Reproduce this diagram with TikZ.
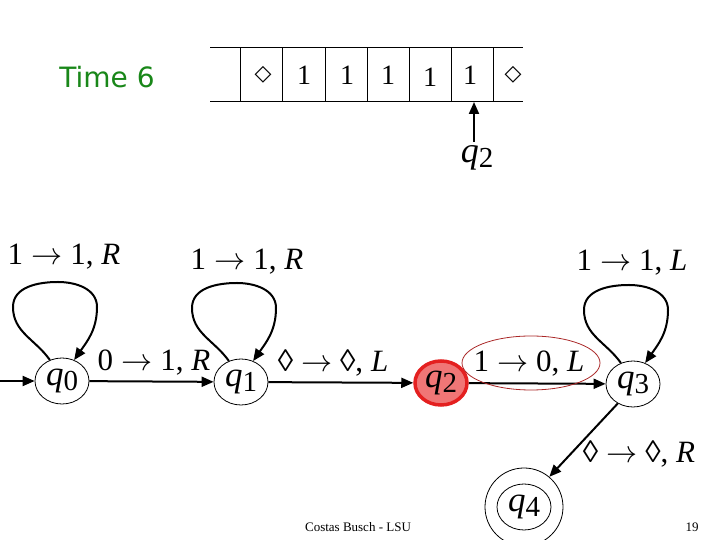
\documentclass[tikz,border=0pt]{standalone}
\usepackage{fontspec}
\usepackage{graphicx}
\setmainfont{Liberation Serif}
\newfontfamily\dejavu{DejaVu Sans}
\usetikzlibrary{arrows.meta,calc,shapes.geometric}
\definecolor{q2fill}{RGB}{240,118,118}
\definecolor{q2line}{RGB}{228,32,32}
\definecolor{hl}{RGB}{170,40,40}
\definecolor{timegreen}{RGB}{25,135,25}
\newcommand\qs[1]{\textit{q}\raisebox{-0.3ex}{\fontsize{29}{29}\selectfont #1}}
\newcommand\tr[3]{#1\hspace{8pt}\raisebox{0.5pt}{\scalebox{1.25}{$\rightarrow$}}\hspace{8pt}#2, \textit{#3}}
\begin{document}
\begin{tikzpicture}[x=1pt,y=1pt,
  state/.style={ellipse,draw,line width=0.8pt,minimum width=54pt,minimum height=46pt,inner sep=0pt,font=\fontsize{35}{35}\selectfont},
  edge/.style={line width=2pt,-{Triangle[length=12pt,width=10pt]}},
  lab/.style={font=\fontsize{31}{31}\selectfont,inner sep=0pt},
  tape/.style={line width=1pt},
  cell/.style={font=\fontsize{28}{28}\selectfont,inner sep=0pt}]
\useasboundingbox (0,0) rectangle (720,540);
% title
\node[font=\dejavu\fontsize{28}{28}\selectfont,text=timegreen] (time) at (107,463) {Time 6};
% tape
\draw[tape] (210,492) -- (523,492);
\draw[tape] (210,438) -- (523,438);
\foreach \x in {240,282,325,367,409,451,493} \draw[tape] (\x,438) -- (\x,492);
\node[cell,font=\dejavu\fontsize{22}{22}\selectfont] (c1) at (263,465) {◇};
\node[cell] (c2) at (304,465) {1};
\node[cell] (c3) at (347,465) {1};
\node[cell] (c4) at (388,465) {1};
\node[cell] (c5) at (430,463) {1};
\node[cell] (c6) at (470,465) {1};
\node[cell,font=\dejavu\fontsize{22}{22}\selectfont] (c7) at (513,465) {◇};
\node[font=\fontsize{36}{36}\selectfont,inner sep=0pt] (head) at (477,382) {\qs2};
\coordinate (hb) at (474,398);
\coordinate (ht) at (474,438);
\draw[edge] (hb) -- (ht);
% states
\node[state] (q0) at (62,159) {\qs0};
\node[state] (q1) at (241,158) {\qs1};
\node[state,fill=q2fill,draw=q2line,line width=3.5pt,minimum width=52pt,minimum height=44pt] (q2) at (441,157) {\qs2};
\node[state] (q3) at (633,156) {\qs3};
\node[state] (q4) at (524,33) {\qs4};
\node[circle,draw,line width=0.8pt,minimum size=78pt] (q4o) at (q4) {};
% edges
\coordinate (init) at (0,159);
\draw[edge] (init) -- (q0);
\draw[edge] (q0) -- (q1);
\draw[edge] (q1) -- (q2);
\draw[edge] (q2) -- (q3);
\draw[edge] (q3.232) -- (q4o.50);
\foreach \s in {q0,q1,q3}
  \draw[edge] (\s.120) to[out=125,in=-90] ($(\s)+(-49,74)$) to[out=90,in=180] ($(\s)+(-4,99)$) to[out=0,in=90] ($(\s)+(35,74)$) to[out=-90,in=55] (\s.60);
% labels
\node[lab] (l00) at (64,283) {\tr{1}{1}{R}};
\node[lab] (l01) at (154,177) {\tr{0}{1}{R}};
\node[lab] (l11) at (247,278) {\tr{1}{1}{R}};
\node[lab] (l12) at (333,177) {\tr{◊}{◊}{L}};
\node[lab] (l23) at (529,176) {\tr{1}{0}{L}};
\node[ellipse,draw=hl,line width=0.8pt,minimum width=138pt,minimum height=54pt] (hlE) at (531,177) {};
\node[lab] (l33) at (632,277) {\tr{1}{1}{L}};
\node[lab] (l34) at (639,86) {\tr{◊}{◊}{R}};
% footer
\node[font=\fontsize{13}{13}\selectfont] (foot) at (358,13) {Costas Busch - LSU};
\node[font=\fontsize{13}{13}\selectfont] (page) at (692,13) {19};
\end{tikzpicture}
\end{document}
